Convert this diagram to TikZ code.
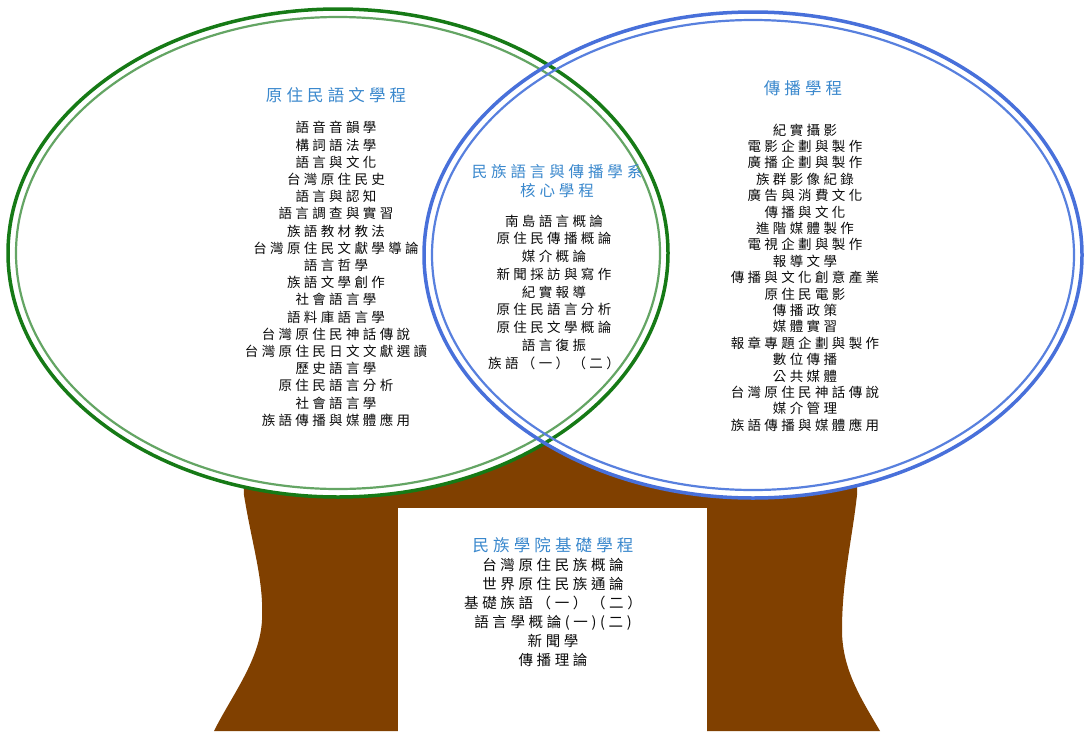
\documentclass[tikz,border=0pt]{standalone}
\usepackage{fontspec}
\newfontfamily\cjk[LetterSpace=25]{Noto Sans CJK TC}
\definecolor{gdark}{RGB}{22,122,22}
\definecolor{glight}{RGB}{100,165,100}
\definecolor{bdark}{RGB}{72,112,218}
\definecolor{blight}{RGB}{88,128,222}
\definecolor{trunk}{RGB}{128,64,0}
\definecolor{ttl}{RGB}{58,136,205}
\definecolor{body}{RGB}{10,10,10}
\tikzset{
  ttlnode/.style={align=center, text=ttl, inner sep=0pt},
  bodynode/.style={align=center, text=body, inner sep=0pt},
}
\newcommand{\cjkfs}[2]{\cjk\fontsize{#1}{#2}\selectfont}
\begin{document}
\begin{tikzpicture}[x=1pt,y=-1pt]
\useasboundingbox (0,0) rectangle (1084,731);
% trunk
\path[fill=trunk] (243,420) -- (244,495)
  .. controls (252,545) and (264,580) .. (262,620)
  .. controls (260,660) and (232,695) .. (214,731)
  -- (880,731)
  .. controls (862,700) and (842,670) .. (842,630)
  .. controls (842,580) and (852,540) .. (857,495)
  -- (858,420) -- cycle;
\node[fill=white, inner sep=0pt, minimum width=309pt, minimum height=224pt, anchor=north west] (box) at (398,508) {};
% ellipse fills
\fill[white] (338,253) ellipse [x radius=330, y radius=244];
\fill[white] (753,255) ellipse [x radius=329, y radius=243];
% ellipse strokes
\draw[gdark, line width=3.5pt] (338,253) ellipse [x radius=330, y radius=244];
\draw[glight, line width=2.2pt] (338,253) ellipse [x radius=322, y radius=236];
\draw[bdark, line width=3.5pt] (753,255) ellipse [x radius=329, y radius=243];
\draw[blight, line width=2.2pt] (753,255) ellipse [x radius=321, y radius=235];
% left
\node[ttlnode, font=\cjkfs{16.5}{20}] (lt) at (336,95) {原住民語文學程};
\node[bodynode, font=\cjkfs{13.5}{17.2}] (lb) at (336,274) {語音音韻學\\構詞語法學\\語言與文化\\台灣原住民史\\語言與認知\\語言調查與實習\\族語教材教法\\台灣原住民文獻學導論\\語言哲學\\族語文學創作\\社會語言學\\語料庫語言學\\台灣原住民神話傳說\\台灣原住民日文文獻選讀\\歷史語言學\\原住民語言分析\\社會語言學\\族語傳播與媒體應用};
% center
\node[ttlnode, font=\cjkfs{15.5}{19.5}] (ct) at (557,181) {民族語言與傳播學系\\核心學程};
\node[bodynode, font=\cjkfs{13.5}{17.75}] (cb) at (554,292) {南島語言概論\\原住民傳播概論\\媒介概論\\新聞採訪與寫作\\紀實報導\\原住民語言分析\\原住民文學概論\\語言復振\\族語（一）（二）};
% right
\node[ttlnode, font=\cjkfs{16.5}{20}] (rt) at (803,88) {傳播學程};
\node[bodynode, font=\cjkfs{13.5}{16.4}] (rb) at (805,277.5) {紀實攝影\\電影企劃與製作\\廣播企劃與製作\\族群影像紀錄\\廣告與消費文化\\傳播與文化\\進階媒體製作\\電視企劃與製作\\報導文學\\傳播與文化創意產業\\原住民電影\\傳播政策\\媒體實習\\報章專題企劃與製作\\數位傳播\\公共媒體\\台灣原住民神話傳說\\媒介管理\\族語傳播與媒體應用};
% bottom
\node[ttlnode, font=\cjkfs{16.5}{20}] (bt) at (553,545) {民族學院基礎學程};
\node[bodynode, font=\cjkfs{14.5}{19}] (bb) at (553,612.5) {台灣原住民族概論\\世界原住民族通論\\基礎族語（一）（二）\\語言學概論(一)(二)\\新聞學\\傳播理論};
\end{tikzpicture}
\end{document}
